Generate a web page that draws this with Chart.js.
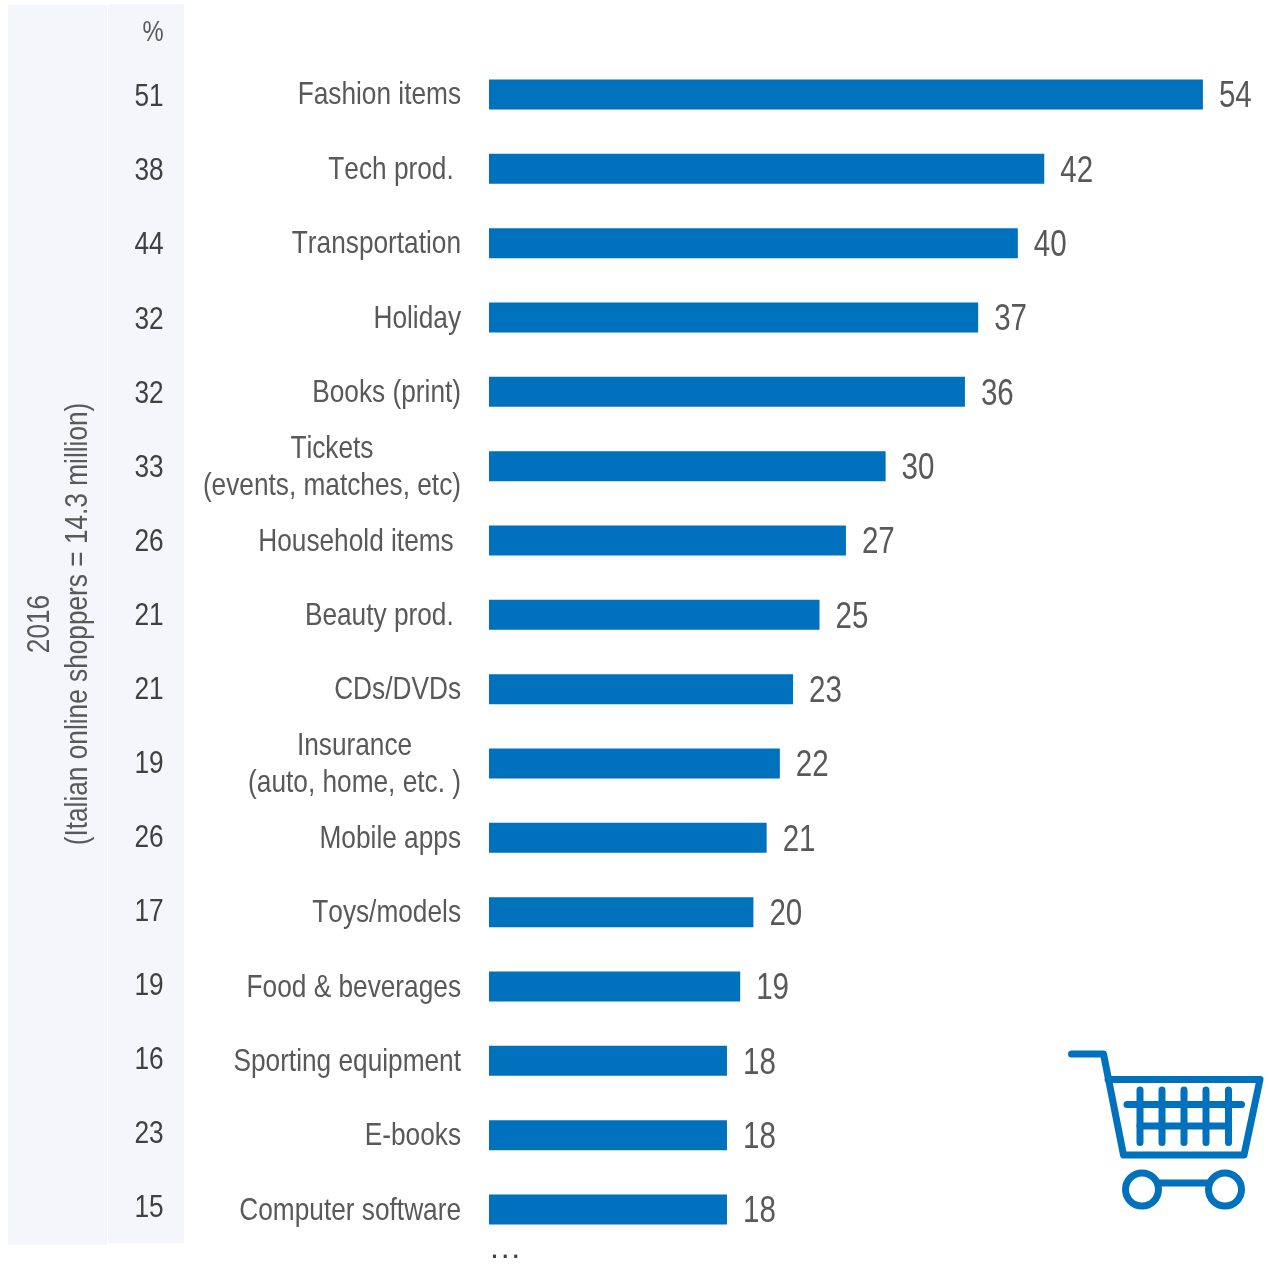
<!DOCTYPE html>
<html>
<head>
<meta charset="utf-8">
<title>Online purchases by category</title>
<script src="https://cdn.jsdelivr.net/npm/chart.js@4"></script>
<style>
  html, body { margin: 0; padding: 0; background: #ffffff; overflow: hidden; }
  #wrap { position: relative; width: 1269px; height: 1264px; }
  #chart { position: absolute; left: 0; top: 0; }
  #cart { position: absolute; left: 0; top: 0; pointer-events: none; }
</style>
</head>
<body>
<div id="wrap">
  <canvas id="chart" width="1269" height="1264"></canvas>
  <svg id="cart" width="1269" height="1264" fill="none" stroke="#0071bc" stroke-width="7" stroke-linecap="round" stroke-linejoin="round">
    <path d="M1071.5 1054H1103.5L1123.5 1155H1244L1260 1079.5H1108"/>
    <path d="M1140 1090V1142.5M1162 1090V1142.5M1184 1090V1142.5M1206 1090V1142.5M1228.5 1090V1142.5"/>
    <path d="M1127 1104.5H1241.5M1140 1126H1228"/>
    <circle cx="1142" cy="1189.5" r="16.5"/>
    <circle cx="1225" cy="1189.5" r="16.5"/>
    <path d="M1158.5 1183H1208.5"/>
  </svg>
</div>
<script>
// trailing nbsp keeps the small indent some labels have on the right
const categories = [
  'Fashion items', 'Tech prod.\u00a0', 'Transportation', 'Holiday', 'Books (print)',
  ['Tickets', '(events, matches, etc)'], 'Household items\u00a0', 'Beauty prod.\u00a0', 'CDs/DVDs',
  ['Insurance', '(auto, home, etc. )'], 'Mobile apps', 'Toys/models', 'Food & beverages',
  'Sporting equipment', 'E-books', 'Computer software'
];
const values2017 = [54, 42, 40, 37, 36, 30, 27, 25, 23, 22, 21, 20, 19, 18, 18, 18];
const values2016 = [51, 38, 44, 32, 32, 33, 26, 21, 21, 19, 26, 17, 19, 16, 23, 15];
const sideTitle = ['2016', '(Italian online shoppers = 14.3 million)'];

const FONT = '"Liberation Sans", sans-serif';
const BLUE = '#0071bc';
const PANEL = '#f5f6fb';
const NARROW = 0.82; // no narrow face installed, so squeeze the regular one
const COLUMN_DRIFT = 0.26; // 2016 rows are spaced slightly tighter than the bars

function narrowText(ctx, text, x, y) {
  ctx.save();
  ctx.translate(x, y);
  ctx.scale(NARROW, 1);
  ctx.fillText(text, 0, 0);
  ctx.restore();
}

const tablePlugin = {
  id: 'tablePlugin',
  beforeDraw(chart) {
    const ctx = chart.ctx;
    ctx.save();
    ctx.fillStyle = PANEL;
    ctx.fillRect(8, 5, 99, 1240);
    ctx.fillRect(108, 4, 76, 1239);
    ctx.restore();
  },
  afterDraw(chart) {
    const ctx = chart.ctx;
    const yScale = chart.scales.y;
    const bars = chart.getDatasetMeta(0).data;
    ctx.save();
    ctx.textBaseline = 'middle';
    ctx.fontKerning = 'none';

    // category names, multi-line ones centred on their longest line
    ctx.font = '32px ' + FONT;
    ctx.fillStyle = '#595959';
    categories.forEach((cat, i) => {
      const y = yScale.getPixelForValue(i) + 1.2;
      if (Array.isArray(cat)) {
        const w = Math.max(...cat.map(t => ctx.measureText(t).width)) * NARROW;
        ctx.textAlign = 'center';
        cat.forEach((line, k) => narrowText(ctx, line, 461 - w / 2, y + (k - 0.5) * 37));
      } else {
        ctx.textAlign = 'right';
        narrowText(ctx, cat, 461, y);
      }
    });

    // 2017 values at the bar ends
    ctx.font = '36px ' + FONT;
    ctx.textAlign = 'left';
    values2017.forEach((v, i) => narrowText(ctx, String(v), bars[i].x + 16, bars[i].y + 3));

    // 2016 column
    ctx.font = '32px ' + FONT;
    ctx.fillStyle = '#404040';
    ctx.textAlign = 'center';
    values2016.forEach((v, i) => narrowText(ctx, String(v), 149, yScale.getPixelForValue(i) + 3 - i * COLUMN_DRIFT));
    ctx.fillStyle = '#595959';
    ctx.font = '29px ' + FONT;
    narrowText(ctx, '%', 153, 33);

    ctx.font = '32px ' + FONT;
    ctx.fillStyle = '#404040';
    ctx.letterSpacing = '1.8px';
    ctx.fillText('...', 506, 1249);
    ctx.letterSpacing = '0px';

    // rotated column title
    ctx.fillStyle = '#595959';
    ctx.translate(0, 624);
    ctx.rotate(-Math.PI / 2);
    narrowText(ctx, sideTitle[0], 0, 40);
    narrowText(ctx, sideTitle[1], 0, 78.5);
    ctx.restore();
  }
};

new Chart(document.getElementById('chart'), {
  type: 'bar',
  data: {
    labels: categories,
    datasets: [{
      data: values2017,
      backgroundColor: BLUE,
      barPercentage: 0.4036,
      categoryPercentage: 1
    }]
  },
  options: {
    indexAxis: 'y',
    responsive: false,
    animation: false,
    events: [],
    layout: { padding: { left: 489, top: 57.3, right: 0, bottom: 17.3 } },
    plugins: { legend: { display: false }, tooltip: { enabled: false } },
    scales: {
      x: { display: false, min: 0, max: 59 },
      y: { display: false }
    }
  },
  plugins: [tablePlugin]
});
</script>
</body>
</html>
